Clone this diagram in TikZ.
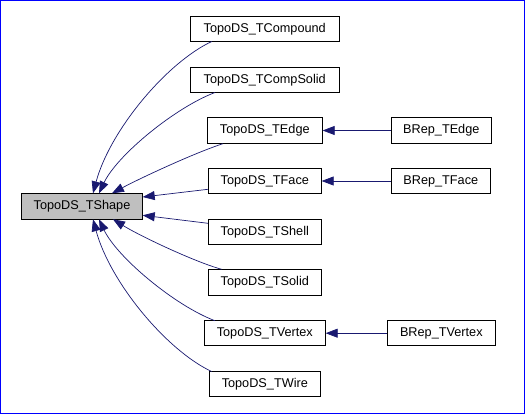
\documentclass[tikz,border=0pt]{standalone}
\usepackage{fontspec}
\setmainfont{Liberation Sans}
\usepackage{xcolor}
\usetikzlibrary{arrows.meta}
\definecolor{edgeblue}{HTML}{191970}
\definecolor{frameblue}{HTML}{0000FF}
\definecolor{basegray}{HTML}{BFBFBF}

\begin{document}
\begin{tikzpicture}[x=1pt,y=1pt,
  cls/.style={draw,line width=0.8pt,inner sep=0pt,outer sep=0pt,
              minimum height=25pt,font=\fontsize{12.7}{15}\selectfont},
  inh/.style={edgeblue,line width=0.7pt,-{Triangle[length=12pt,width=9pt]}}]
 \useasboundingbox (0,0) rectangle (526,-414);
 \draw[frameblue,line width=1pt] (0.5,-0.5) rectangle (524.5,-413.3);
 % base class
 \node[cls,fill=basegray,minimum width=121.4pt,minimum height=26pt] (tshape) at (82,-206.3) {TopoDS\_TShape};
 % derived classes
 \node[cls,minimum width=149.3pt] (tcompound) at (264.7,-29) {TopoDS\_TCompound};
 \node[cls,minimum width=149.3pt] (tcompsolid) at (264.7,-80) {TopoDS\_TCompSolid};
 \node[cls,minimum width=115.7pt,minimum height=26.4pt] (tedge) at (264.8,-130.5) {TopoDS\_TEdge};
 \node[cls,minimum width=113.7pt,minimum height=24.6pt] (tface) at (264.8,-181) {TopoDS\_TFace};
 \node[cls,minimum width=113.7pt] (tshell) at (264.8,-232) {TopoDS\_TShell};
 \node[cls,minimum width=113.7pt,minimum height=26pt] (tsolid) at (264.8,-282.3) {TopoDS\_TSolid};
 \node[cls,minimum width=121.7pt] (tvertex) at (264.8,-333.2) {TopoDS\_TVertex};
 \node[cls,minimum width=111.7pt] (twire) at (264.8,-384) {TopoDS\_TWire};
 \node[cls,minimum width=100.7pt,minimum height=26.4pt] (brepedge) at (441.3,-130.5) {BRep\_TEdge};
 \node[cls,minimum width=99.7pt,minimum height=24.6pt] (brepface) at (440.8,-181) {BRep\_TFace};
 \node[cls,minimum width=108.7pt] (brepvertex) at (441.3,-333.2) {BRep\_TVertex};
 % inheritance arrows
 \draw[inh] ([xshift=21.7pt]tcompound.south west) .. controls +(-45,-21) and +(17,63) .. ([xshift=71.7pt]tshape.north west);
 \draw[inh] ([xshift=25pt]tcompsolid.south west) .. controls +(-40,-15) and +(18,38) .. ([xshift=77.7pt]tshape.north west);
 \draw[inh] ([xshift=16pt]tedge.south west) .. controls +(-28,-9) and +(28,15) .. ([xshift=90.7pt]tshape.north west);
 \draw[inh] ([yshift=-8.3pt]tface.west) -- ([yshift=-3.7pt]tshape.north east);
 \draw[inh] ([yshift=8.7pt]tshell.west) -- ([yshift=4pt]tshape.south east);
 \draw[inh] ([xshift=13.7pt]tsolid.north west) .. controls +(-26.7,7.3) and +(27,-16.7) .. ([xshift=91.7pt]tshape.south west);
 \draw[inh] ([xshift=11pt]tvertex.north west) .. controls +(-40,15) and +(18,-38) .. ([xshift=77.7pt]tshape.south west);
 \draw[inh] ([xshift=2.7pt]twire.north west) .. controls +(-45,21) and +(17,-63) .. ([xshift=71.7pt]tshape.south west);
 \draw[inh] (brepedge) -- (tedge);
 \draw[inh] (brepface) -- (tface);
 \draw[inh] (brepvertex) -- (tvertex);
\end{tikzpicture}
\end{document}
